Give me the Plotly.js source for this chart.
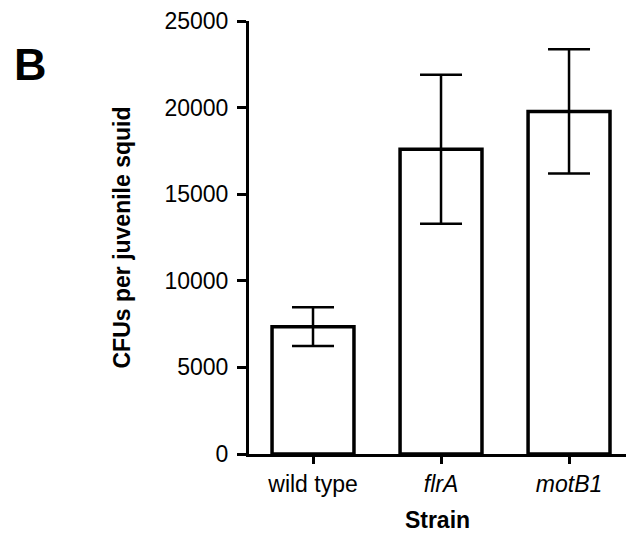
<!DOCTYPE html>
<html>
<head>
<meta charset="utf-8">
<script src="https://cdn.plot.ly/plotly-3.0.1.min.js"></script>
<style>
  html, body { margin: 0; padding: 0; background: #fff; }
  #chart { width: 626px; height: 536px; }
</style>
</head>
<body>
<div id="chart"></div>
<script>
// Colonization of juvenile squid by each strain (mean ± error)
const strains = ['wild type', '<i>flrA</i>', '<i>motB1</i>'];
const cfuMean = [7350, 17600, 19780];
const cfuError = [1120, 4300, 3590];
const yTicks = [0, 5000, 10000, 15000, 20000, 25000];

const font = 'Arial, "Liberation Sans", sans-serif';

const trace = {
  type: 'bar',
  x: strains,
  y: cfuMean,
  marker: { color: '#ffffff', line: { color: '#000000', width: 3.5 } },
  error_y: {
    type: 'data',
    array: cfuError,
    visible: true,
    color: '#000000',
    thickness: 2.5,
    width: 21
  },
  hoverinfo: 'skip'
};

const layout = {
  width: 626,
  height: 536,
  margin: { l: 249, r: 0, t: 21, b: 82 },
  paper_bgcolor: '#ffffff',
  plot_bgcolor: '#ffffff',
  showlegend: false,
  bargap: 0.36,
  font: { family: font, color: '#000000' },
  xaxis: {
    range: [-0.5, 2.445],
    showline: true,
    linecolor: '#000000',
    linewidth: 3,
    ticks: 'outside',
    ticklen: 7,
    tickwidth: 3,
    tickcolor: '#000000',
    showgrid: false,
    zeroline: false,
    tickfont: { size: 23, family: font },
    fixedrange: true,
    title: { text: '<b>Strain</b>', font: { size: 23, family: font }, standoff: 17 }
  },
  yaxis: {
    range: [0, 25000],
    tickvals: yTicks,
    ticktext: yTicks.map(String),
    showline: true,
    linecolor: '#000000',
    linewidth: 3,
    ticks: 'outside',
    ticklen: 9,
    tickwidth: 3,
    tickcolor: '#000000',
    showgrid: false,
    zeroline: false,
    tickfont: { size: 23, family: font },
    ticklabelstandoff: 4,
    fixedrange: true,
    title: { text: '<b>CFUs per juvenile squid</b>', font: { size: 23, family: font }, standoff: 28 }
  },
  annotations: [{
    text: '<b>B</b>',
    xref: 'paper', yref: 'paper',
    x: -249 / 377 + 30 / 377, y: 1 + (21 - 64) / 433,
    xanchor: 'center', yanchor: 'middle',
    showarrow: false,
    font: { size: 45, family: font, color: '#000000' }
  }]
};

Plotly.newPlot('chart', [trace], layout, { staticPlot: true, displayModeBar: false });
</script>
</body>
</html>
